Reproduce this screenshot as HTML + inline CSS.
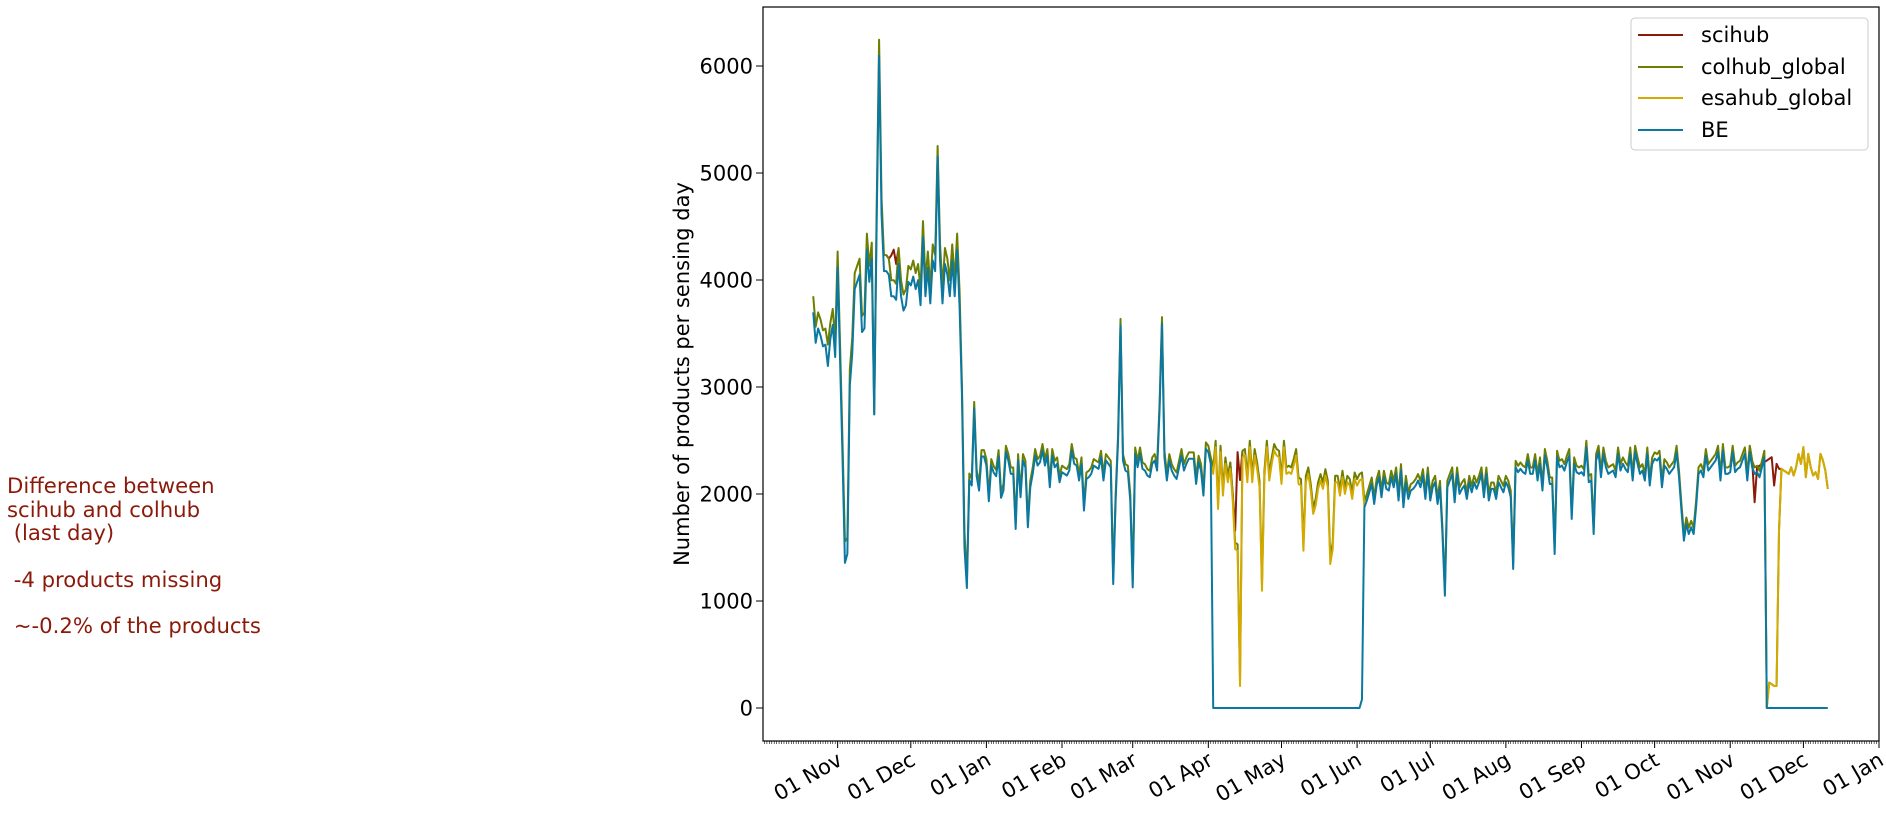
<!DOCTYPE html>
<html><head><meta charset="utf-8"><style>
html,body{margin:0;padding:0;background:#fff;}
svg{display:block;font-family:"DejaVu Sans","Liberation Sans",sans-serif;}
</style></head><body>
<svg id="chart" width="1886" height="813" viewBox="0 0 1886 813" xmlns="http://www.w3.org/2000/svg">
<rect x="0" y="0" width="1886" height="813" fill="#fff"/>
<g fill="#8b1a0a" font-size="21.2">
<text x="7" y="493">Difference between</text>
<text x="7" y="517">scihub and colhub</text>
<text x="7" y="540" xml:space="preserve"> (last day)</text>
<text x="7" y="587" xml:space="preserve"> -4 products missing</text>
<text x="7" y="633" xml:space="preserve"> ~-0.2% of the products</text>
</g>
<g id="series"></g>
<g id="axes"></g>
<rect x="763" y="7" width="1116" height="734" fill="none" stroke="#000" stroke-width="1.2"/>
<text x="683" y="374" transform="rotate(-90 683 374)" text-anchor="middle" dominant-baseline="middle" font-size="21">Number of products per sensing day</text>
<g>
<rect x="1631" y="18" width="237" height="132" rx="4" fill="#fff" fill-opacity="0.8" stroke="#cccccc"/>
<line x1="1638" y1="35" x2="1683" y2="35" stroke="#8b1a0a" stroke-width="2"/>
<text x="1701" y="42" font-size="21">scihub</text>
<line x1="1638" y1="67" x2="1683" y2="67" stroke="#6e7f00" stroke-width="2"/>
<text x="1701" y="74" font-size="21">colhub_global</text>
<line x1="1638" y1="98" x2="1683" y2="98" stroke="#d4aa00" stroke-width="2"/>
<text x="1701" y="105" font-size="21">esahub_global</text>
<line x1="1638" y1="130" x2="1683" y2="130" stroke="#0a78a0" stroke-width="2"/>
<text x="1701" y="137" font-size="21">BE</text>
</g>
</svg>
<script>
// day 0 = 2019-11-01
const firstDay = -10;
const yTicks = [0,1000,2000,3000,4000,5000,6000];
const monthLabels = ["01 Nov","01 Dec","01 Jan","01 Feb","01 Mar","01 Apr","01 May","01 Jun","01 Jul","01 Aug","01 Sep","01 Oct","01 Nov","01 Dec","01 Jan"];
const monthDays = [0,30,61,92,121,152,182,213,243,274,305,335,366,396,427];

const beVals = [
3698,3413,3547,3480,3380,3396,3196,3447,3580,3280,
4116,3246,2343,1356,1440,3012,3313,3915,3982,4049,
3514,3547,4283,3982,4199,2744,4517,6095,4617,4083,
4083,4049,3848,3848,3815,4149,3848,3714,3764,3982,
3949,4032,3915,3999,3764,4400,3848,4116,3781,4183,
4083,5152,4183,3781,4149,4049,3848,4183,3848,4283,
3748,2900,1500,1122,2130,2080,2800,2166,2032,2350,
2350,2266,1932,2266,2199,2166,2350,1965,
2032,2391,2313,2188,2188,1673,2313,1970,2313,2250,
1689,2063,2188,2360,2266,2297,2407,2266,2360,2063,
2360,2250,2282,2110,2204,2188,2172,2219,2407,2282,
2266,2126,2282,1845,2141,2157,2188,2266,2250,2235,
2344,2126,2313,2282,2250,1158,1939,2500,3577,2313,
2219,2204,1939,1127,2375,2250,2375,2235,2219,2172,
2157,2282,2313,2219,2781,3593,2344,2126,2313,2219,
2172,2141,2250,2360,2219,2282,2329,2329,2329,2094,
2297,2219,
1985,2422,2391,2282,
0,0,0,0,0,0,0,0,0,0, 0,0,0,0,0,0,0,0,0,0, 0,0,0,0,0,0,0,0,0,0,
0,0,0,0,0,0,0,0,0,0, 0,0,0,0,0,0,0,0,0,0, 0,0,0,0,0,0,0,0,0,0, 0,
81,
1876,1939,2016,2094,1907,2079,2157,1970,2157,2048,2032,2157,2063,2188,1939,2219,1876,
2110,1954,2032,2048,2079,2126,2063,2172,1954,2188,
1939,2063,2110,1907,2063,1626,1049,2063,2126,2188,
1923,2188,2001,2048,2079,1954,2110,2016,2110,2048,
2110,2188,1970,2188,1939,2048,2048,1954,2110,2063,
2016,2110,2063,1970,1299,2250,2204,2235,2204,2188,
2313,2188,2188,2313,2126,2282,2032,2360,2250,2094,
2094,1439,2344,2250,2266,2219,2297,2360,1767,2282,
2204,2188,2204,2172,2438,2110,2126,1626,2313,2391,
2157,2375,2250,2188,
2204,2219,2157,2375,2219,2282,2235,2204,2375,2126,
2391,2282,2188,2219,2126,2375,2079,2282,2329,2313,
2344,2063,2266,2235,2188,2219,2250,2391,2157,1845,
1564,1720,1626,1689,1626,1876,2188,2219,2157,2360,
2219,2250,2282,2313,2391,2126,2407,2188,2188,2204,
2391,2204,2235,2250,2313,2375,2126,2391,2250,2188,
2204,2157,2250,2344,
0,0,0,0,0,0,0,0,0,0, 0,0,0,0,0,0,0,0,0,0, 0,0,0,0,0,0
];

const colhubVals = [
3848,3563,3697,3630,3530,3546,3396,3597,3730,3430,
4266,3396,2493,1557,1590,3162,3463,4065,4132,4199,
3664,3697,4433,4132,4349,2744,4667,6245,4767,4233,
4233,4199,3998,3998,3965,4299,3998,3864,3914,4132,
4099,4182,4065,4149,3914,4550,3998,4266,3931,4333,
4233,5252,4333,3931,4299,4199,3998,4333,3998,4433,
3898,2995,1657,1172,2192,2142,2861,2226,2092,2410,
2410,2326,1992,2326,2259,2226,2410,2025,
2092,2451,2373,2248,2248,1733,2373,2030,2373,2310,
1749,2123,2248,2420,2326,2357,2467,2326,2420,2123,
2420,2310,2342,2170,2264,2248,2232,2279,2467,2342,
2326,2186,2342,1905,2201,2217,2248,2326,2310,2295,
2404,2186,2373,2342,2310,1218,1999,2560,3637,2373,
2279,2264,1999,1187,2435,2310,2435,2295,2279,2232,
2217,2342,2373,2279,2841,3653,2404,2186,2373,2279,
2232,2201,2310,2420,2279,2342,2389,2389,2389,2154,
2357,2279,
2045,2482,2451,2342,
2248,2498,1920,2451,2045,2342,2170,2295,1999,1546,
1530,260,2404,2420,2170,2498,2170,2420,2295,2123,
1156,2217,2498,2186,2342,2467,2420,2404,2154,2498,
2248,2264,2248,2326,2420,2154,2139,1530,2170,2248,
2092,1874,1952,2108,2186,2108,2232,2123,1405,1546,
2170,2170,2045,2217,2061,2170,2139,2014,2201,2139,
2186,2201,
1936,1999,2076,2154,1967,2139,2217,2030,2217,2108,2092,2217,2123,2248,1999,2279,1936,
2170,2014,2092,2108,2139,2186,2123,2232,2014,2248,
1999,2123,2170,1967,2123,1686,1109,2123,2186,2248,
1983,2248,2061,2108,2139,2014,2170,2076,2170,2108,
2170,2248,2030,2248,1999,2108,2108,2014,2170,2123,
2076,2170,2123,2030,1359,2310,2264,2295,2264,2248,
2373,2248,2248,2373,2186,2342,2092,2420,2310,2154,
2154,1499,2404,2310,2326,2279,2357,2420,1827,2342,
2264,2248,2264,2232,2498,2170,2186,1686,2373,2451,
2217,2435,2310,2248,
2264,2279,2217,2435,2279,2342,2295,2264,2435,2186,
2451,2342,2248,2279,2186,2435,2139,2342,2389,2373,
2404,2123,2326,2295,2248,2279,2310,2451,2217,1905,
1624,1780,1686,1749,1686,1936,2248,2279,2217,2420,
2279,2310,2342,2373,2451,2186,2467,2248,2248,2264,
2451,2264,2295,2310,2373,2435,2186,2451,2310,2248,
2264,2217,2310,2404,
3,238,222,206,206,1658,2235,2219,2204,2188,2250,2172,2250,2375,2282,2438,2157,2375,2250,2172,2204,2141,2375,2313,2219,2048
];

// esahub visible segments (hidden under BE elsewhere)
const esahubStart1 = 153;
const esahubVals1 = [2282,
2188,2438,1860,2391,1985,2282,2110,2235,1939,1486,
1470,206,2344,2360,2110,2438,2110,2360,2235,2063,
1096,2157,2438,2126,2282,2407,2360,2344,2094,2438,
2188,2204,2188,2266,2360,2094,2079,1470,2110,2188,
2032,1814,1892,2048,2126,2048,2172,2063,1345,1486,
2110,2110,1985,2157,2001,2110,2079,1954,2141,2079,
2126,2141,1876];
const esahubStart2 = 380;
const esahubVals2 = [2344,3,238,222,206,206,1658,2235,2219,2204,2188,2250,2172,2250,2375,2282,2438,2157,2375,2250,2172,2204,2141,2375,2313,2219,2048];

// scihub visible segments (hidden under colhub elsewhere)
const scihubStart1 = 20;
const scihubVals1 = [4233,4199,4230,4283,4150,4299];
const scihubStart2 = 161;
const scihubVals2 = [2295,1999,1658,2391,2130,2404];
const scihubStart3 = 374;
const scihubVals3 = [2451,2310,1923,2248,2264,2282,2297,2313,2329,2344,2079,2282,2235,2235];

const NS = "http://www.w3.org/2000/svg";
const X0 = 763, X1 = 1879, D0 = -30.6, D1 = 427;
function xScale(d){ return X0 + (d - D0) * (X1 - X0) / (D1 - D0); }
function yScale(v){ return 708 - v * 0.107; }

const series = document.getElementById('series');
function drawLine(start, vals, color, name){
  let d = '';
  vals.forEach((v,i)=>{ d += (i?'L':'M') + xScale(start+i).toFixed(2) + ' ' + yScale(v).toFixed(2); });
  const p = document.createElementNS(NS,'path');
  p.setAttribute('d', d);
  p.setAttribute('fill','none');
  p.setAttribute('stroke', color);
  p.setAttribute('stroke-width','2');
  p.setAttribute('stroke-linejoin','round');
  
  
  series.appendChild(p);
}
drawLine(scihubStart1, scihubVals1, '#8b1a0a', 'scihub-line-1');
drawLine(scihubStart2, scihubVals2, '#8b1a0a', 'scihub-line-2');
drawLine(scihubStart3, scihubVals3, '#8b1a0a', 'scihub-line-3');
drawLine(firstDay, colhubVals, '#6e7f00', 'colhub-global-line');
drawLine(esahubStart1, esahubVals1, '#d4aa00', 'esahub-global-line-1');
drawLine(esahubStart2, esahubVals2, '#d4aa00', 'esahub-global-line-2');
drawLine(firstDay, beVals, '#0a78a0', 'be-line');

const axes = document.getElementById('axes');
function mk(tag, attrs){ const e = document.createElementNS(NS, tag); for (const k in attrs) e.setAttribute(k, attrs[k]); axes.appendChild(e); return e; }
for (let d = Math.ceil(D0); d <= D1; d++){
  const t = mk('line', {x1:xScale(d), x2:xScale(d), y1:741, y2:744, stroke:'#000', 'stroke-width':0.6});
  
  
}
monthDays.forEach((d,i)=>{
  const x = xScale(d);
  const t = mk('line', {x1:x, x2:x, y1:741, y2:748, stroke:'#000', 'stroke-width':1});
  
  
  const lb = mk('text', {x:0, y:0, 'text-anchor':'end', 'font-size':21, transform:'translate(' + (x+6) + ',764) rotate(-30)'});
  lb.textContent = monthLabels[i];
  
  
});
yTicks.forEach(v=>{
  const y = yScale(v);
  const t = mk('line', {x1:756, x2:763, y1:y, y2:y, stroke:'#000', 'stroke-width':1});
  
  
  const lb = mk('text', {x:753, y:y+7.5, 'text-anchor':'end', 'font-size':21});
  lb.textContent = String(v);
  
  
});
</script>
</body></html>
